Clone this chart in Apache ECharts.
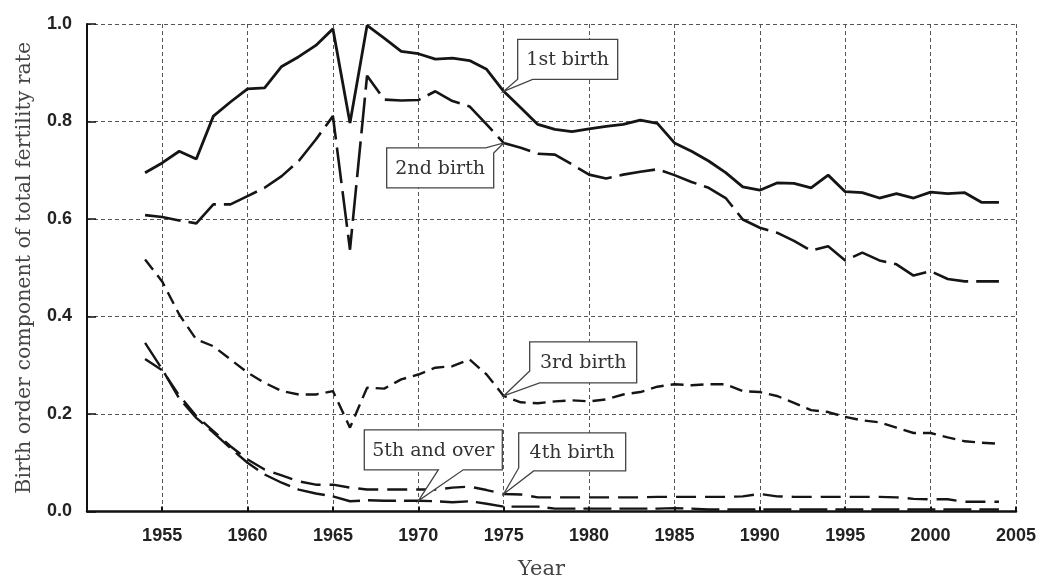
<!DOCTYPE html>
<html><head><meta charset="utf-8">
<script src="https://cdn.jsdelivr.net/npm/echarts@6/dist/echarts.min.js"></script>
<style>html,body{margin:0;padding:0;background:#fff}#c{width:1039px;height:578px}</style>
</head><body><div id="c"></div>
<script>
const years = [1954,1955,1956,1957,1958,1959,1960,1961,1962,1963,1964,1965,1966,1967,1968,1969,1970,1971,1972,1973,1974,1975,1976,1977,1978,1979,1980,1981,1982,1983,1984,1985,1986,1987,1988,1989,1990,1991,1992,1993,1994,1995,1996,1997,1998,1999,2000,2001,2002,2003,2004];
const firstBirth = [0.695,0.715,0.739,0.723,0.811,0.840,0.867,0.869,0.913,0.933,0.956,0.990,0.797,0.997,0.971,0.944,0.939,0.928,0.930,0.925,0.907,0.862,0.828,0.794,0.784,0.779,0.785,0.790,0.794,0.803,0.796,0.756,0.739,0.719,0.695,0.666,0.659,0.674,0.673,0.664,0.690,0.656,0.654,0.643,0.652,0.643,0.655,0.652,0.654,0.634,0.634];
const secondBirth = [0.608,0.604,0.597,0.591,0.630,0.630,0.647,0.664,0.688,0.719,0.763,0.811,0.537,0.894,0.845,0.843,0.844,0.862,0.842,0.831,0.794,0.756,0.746,0.734,0.732,0.712,0.691,0.683,0.691,0.697,0.702,0.690,0.676,0.664,0.643,0.599,0.582,0.572,0.555,0.535,0.544,0.515,0.531,0.515,0.507,0.484,0.493,0.477,0.472,0.472,0.472];
const thirdBirth = [0.517,0.472,0.404,0.353,0.339,0.312,0.285,0.264,0.247,0.240,0.240,0.247,0.172,0.254,0.252,0.271,0.281,0.295,0.298,0.312,0.281,0.237,0.224,0.222,0.226,0.228,0.226,0.230,0.240,0.245,0.256,0.261,0.259,0.261,0.261,0.247,0.245,0.237,0.223,0.208,0.204,0.194,0.187,0.183,0.172,0.161,0.161,0.152,0.144,0.141,0.139];
const fourthBirth = [0.313,0.290,0.238,0.196,0.165,0.134,0.107,0.086,0.074,0.062,0.055,0.055,0.049,0.045,0.045,0.045,0.045,0.045,0.049,0.051,0.044,0.036,0.035,0.029,0.029,0.029,0.029,0.029,0.029,0.029,0.030,0.030,0.030,0.030,0.030,0.031,0.036,0.031,0.030,0.030,0.030,0.030,0.030,0.030,0.029,0.026,0.025,0.025,0.020,0.020,0.020];
const fifthOver = [0.346,0.292,0.232,0.192,0.162,0.130,0.100,0.076,0.059,0.045,0.037,0.031,0.021,0.023,0.022,0.022,0.022,0.021,0.019,0.021,0.016,0.010,0.010,0.010,0.006,0.006,0.006,0.006,0.006,0.006,0.006,0.007,0.006,0.004,0.004,0.004,0.004,0.004,0.004,0.004,0.004,0.004,0.004,0.004,0.004,0.004,0.004,0.004,0.004,0.004,0.004];
const xTickValues = [1955,1960,1965,1970,1975,1980,1985,1990,1995,2000,2005];
const seriesNames = ['1st birth','2nd birth','3rd birth','4th birth','5th and over'];
const xTitle = 'Year';
const yTitle = 'Birth order component of total fertility rate';

function pairs(arr){ return years.map((y,i)=>[y, arr[i]]); }
const chart = echarts.init(document.getElementById('c'));
const gridLine = {show:true, lineStyle:{color:'#555', width:1, type:[4,3]}};
const lineCol = '#151515';
chart.setOption({
  animation:false,
  backgroundColor:'#fff',
  grid:{left:87, right:23, top:24, bottom:66.5, containLabel:false, outerBoundsMode:'none'},
  xAxis:{type:'value', min:1950.6, max:2005,
    axisLine:{show:true, onZero:false, lineStyle:{color:'#111', width:2.5}},
    axisTick:{show:true, inside:true, length:5, customValues:xTickValues, lineStyle:{color:'#111', width:2}},
    axisLabel:{customValues:xTickValues, fontFamily:'Liberation Sans', fontWeight:'bold', fontSize:18, color:'#222', margin:16, formatter:v=>String(v)},
    splitLine:gridLine,
    name:xTitle, nameLocation:'middle', nameGap:48,
    nameTextStyle:{fontFamily:'DejaVu Serif', fontSize:21, color:'#444', padding:[0,20,0,0]}
  },
  yAxis:{type:'value', min:0, max:1, interval:0.2,
    axisLine:{show:true, lineStyle:{color:'#111', width:2}},
    axisTick:{show:true, inside:true, length:9, lineStyle:{color:'#111', width:1.5}},
    axisLabel:{fontFamily:'Liberation Sans', fontWeight:'bold', fontSize:18, color:'#222', margin:15, formatter:v=>v.toFixed(1)},
    splitLine:gridLine,
    name:yTitle, nameLocation:'middle', nameGap:52,
    nameTextStyle:{fontFamily:'DejaVu Serif', fontSize:20.5, color:'#444'}
  },
  series:[
    {name:seriesNames[0], type:'line', data:pairs(firstBirth), symbol:'none', lineStyle:{color:lineCol, width:2.8, type:'solid'}, z:5},
    {name:seriesNames[1], type:'line', data:pairs(secondBirth), symbol:'none', lineStyle:{color:lineCol, width:2.6, type:[36,8]}, z:5},
    {name:seriesNames[2], type:'line', data:pairs(thirdBirth), symbol:'none', lineStyle:{color:lineCol, width:2.4, type:[13,7]}, z:5},
    {name:seriesNames[3], type:'line', data:pairs(fourthBirth), symbol:'none', lineStyle:{color:lineCol, width:2.4, type:[20,9]}, z:5},
    {name:seriesNames[4], type:'line', data:pairs(fifthOver), symbol:'none', lineStyle:{color:lineCol, width:2.4, type:[28,8]}, z:5}
  ]
});

// callouts: anchored to a data point, box offset relative to anchor
const callouts = [
  {text:seriesNames[0], arr:firstBirth, year:1975, off:[14,-52], w:100, h:40, pts:[[0,0],[100,0],[100,40],[15,40],'A',[0,40]]},
  {text:seriesNames[1], arr:secondBirth, year:1975, off:[-117,5], w:107, h:40, pts:[[0,0],[99,0],'A',[107,5],[107,40],[0,40]]},
  {text:seriesNames[2], arr:thirdBirth, year:1975, off:[26,-54], w:107, h:41, pts:[[0,0],[107,0],[107,41],[10,41],'A',[0,29]]},
  {text:seriesNames[4], arr:fifthOver, year:1970, off:[-54,-71], w:138, h:40, pts:[[0,0],[138,0],[138,40],[99,40],'A',[74,40],[0,40]]},
  {text:seriesNames[3], arr:fourthBirth, year:1975, off:[15,-61], w:107, h:38, pts:[[0,0],[107,0],[107,38],[15,38],'A',[0,35]]}
];
const graphics = [];
callouts.forEach((c,i)=>{
  const v = c.arr[years.indexOf(c.year)];
  const a = chart.convertToPixel({gridIndex:0}, [c.year, v]);
  const left = a[0] + c.off[0], top = a[1] + c.off[1];
  const points = c.pts.map(p => p === 'A' ? [a[0], a[1]] : [left + p[0], top + p[1]]);
  graphics.push({type:'polygon', shape:{points}, style:{fill:'#fff', stroke:'#444', lineWidth:1.3}, z:100});
  graphics.push({type:'text', x:left + c.w/2, y:top + c.h/2 + 1, style:{text:c.text, fontFamily:'DejaVu Serif', fontSize:19, fill:'#333', align:'center', verticalAlign:'middle'}, z:101});
});
chart.setOption({graphic:graphics});
</script>
</body></html>
